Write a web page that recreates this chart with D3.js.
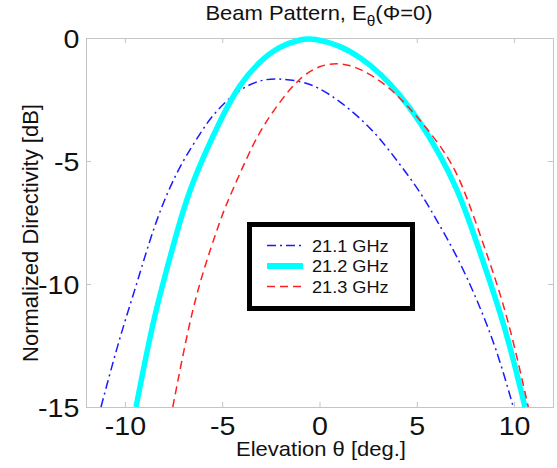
<!DOCTYPE html>
<html>
<head>
<meta charset="utf-8">
<script src="https://cdn.jsdelivr.net/npm/d3@7"></script>
<style>
  body { margin: 0; background: #fff; }
  text { font-family: "Liberation Sans", Arial, sans-serif; fill: #111; }
</style>
</head>
<body>
<div id="chart"></div>
<script>
const width = 557
const height = 468
const margins = { top: 38, bottom: 61, left: 86, right: 4 }
const sx = 1.1 // the reference text is a bit stretched sideways

// data
const ticksX = [-10, -5, 0, 5, 10]
const ticksY = [-15, -10, -5, 0]
const freqLabels = ['21.1 GHz', '21.2 GHz', '21.3 GHz']

const theta211 = [-11.23, -10.29, -9.43, -8.53, -7.72, -7.03, -6.18, -5.49, -4.63, -3.95, -3.09, -2.24, -0.86, 0, 1.05, 2.08, 3.11, 4.14, 5.16, 6.02, 7.05, 8.08, 9.1, 9.96]
const dir211 = [-15, -12.22, -10.1, -7.7, -6.1, -5.01, -3.93, -3.12, -2.44, -2.03, -1.72, -1.63, -1.76, -2.03, -2.57, -3.25, -4.07, -5.15, -6.23, -7.4, -8.83, -10.6, -12.63, -15]

const theta212 = [-9.43, -8.57, -7.89, -7.2, -6.69, -6.0, -4.97, -4.12, -3.09, -2.07, -1.0, -0.3, 1.05, 2.08, 3.11, 4.14, 5.16, 6.19, 7.05, 7.73, 8.59, 9.62, 10.56]
const dir212 = [-15, -11.54, -9.51, -7.52, -6.23, -4.88, -3.12, -1.9, -0.95, -0.34, -0.05, 0, -0.3, -0.78, -1.42, -2.3, -3.39, -4.74, -6.1, -7.5, -9.51, -11.95, -15]

const theta213 = [-7.54, -6.69, -6.0, -5.15, -4.8, -4.12, -3.43, -2.75, -1.89, -1.04, 0, 1.05, 2.08, 3.45, 4.48, 5.51, 6.54, 7.25, 7.9, 8.93, 9.79, 10.73]
const dir213 = [-15, -11.54, -9.51, -7.52, -6.78, -5.56, -4.34, -3.39, -2.44, -1.63, -1.1, -1.0, -1.22, -1.9, -2.71, -3.66, -4.74, -5.8, -7.2, -9.51, -11.7, -15]

const series = [
    { name: freqLabels[0], theta: theta211, dir: dir211 },
    { name: freqLabels[1], theta: theta212, dir: dir212 },
    { name: freqLabels[2], theta: theta213, dir: dir213 }
]

// line styles
const styles = [
    { color: '#1a1aff', width: 1.5, dash: '9,4,2,4', legendWidth: 1.5 },
    { color: '#00ffff', width: 5.5, dash: null, legendWidth: 6 },
    { color: '#ff2020', width: 1.5, dash: '8,5', legendWidth: 1.5 }
]

const w = width - margins.left - margins.right
const h = height - margins.top - margins.bottom

let svg = d3.select('#chart').append('svg').attr('width', width).attr('height', height)

let x = d3.scaleLinear().domain([-12, 12]).range([0, w])
let y = d3.scaleLinear().domain([-15, 0]).range([h, 0])

let plot = svg.append('g').attr('id', 'plot')
    .attr('transform', `translate(${margins.left}, ${margins.top})`)

// axes, ticks pointing inwards
let xAxisGroup = plot.append('g').attr('transform', `translate(0, ${h})`)
    .call(d3.axisBottom(x).tickValues(ticksX).tickSizeInner(-5).tickSizeOuter(0).tickPadding(10))
let xTopGroup = plot.append('g')
    .call(d3.axisTop(x).tickValues(ticksX).tickSizeInner(-5).tickSizeOuter(0).tickFormat(''))
let yAxisGroup = plot.append('g')
    .call(d3.axisLeft(y).tickValues(ticksY).tickSizeInner(-5).tickSizeOuter(0).tickPadding(6))
let yRightGroup = plot.append('g').attr('transform', `translate(${w}, 0)`)
    .call(d3.axisRight(y).tickValues(ticksY).tickSizeInner(-5).tickSizeOuter(0).tickFormat(''))

plot.selectAll('.domain').attr('stroke', '#c4c4c4')
plot.selectAll('.tick line').attr('stroke', '#c4c4c4')
plot.selectAll('.tick text')
    .attr('font-size', 26)
    .attr('font-family', '"Liberation Sans", Arial, sans-serif')
    .attr('fill', '#111')
    .attr('transform', `scale(${sx}, 1)`)
xAxisGroup.selectAll('.tick text').text(d => d < 0 ? '-' + Math.abs(d) : d)
yAxisGroup.selectAll('.tick text').text(d => d < 0 ? '-' + Math.abs(d) : d).attr('dy', '0.38em')

// curves
let line = d3.line()
    .x(d => x(d[0]))
    .y(d => y(d[1]))
    .curve(d3.curveBasis)

plot.selectAll('path.curve').data(series).enter()
    .append('path')
    .attr('class', 'curve')
    .attr('fill', 'none')
    .attr('stroke', (d, i) => styles[i].color)
    .attr('stroke-width', (d, i) => styles[i].width)
    .attr('stroke-dasharray', (d, i) => styles[i].dash)
    .attr('d', d => line(d.theta.map((t, k) => [t, d.dir[k]])))

// legend
let legend = svg.append('g').attr('id', 'legend')
legend.append('rect')
    .attr('x', 249.5).attr('y', 224.5)
    .attr('width', 163).attr('height', 84)
    .attr('fill', '#fff')
    .attr('stroke', '#000')
    .attr('stroke-width', 5)

let items = legend.selectAll('g.item').data(series).enter()
    .append('g')
    .attr('class', 'item')
    .attr('transform', (d, i) => `translate(0, ${245.5 + i * 20.5})`)
items.append('line')
    .attr('x1', 267).attr('x2', 303)
    .attr('stroke', (d, i) => styles[i].color)
    .attr('stroke-width', (d, i) => styles[i].legendWidth)
    .attr('stroke-dasharray', (d, i) => styles[i].dash)
items.append('text')
    .attr('transform', `translate(312, 6) scale(${sx}, 1)`)
    .attr('font-size', 16.5)
    .text(d => d.name)

// title and axis labels
let title = svg.append('text')
    .attr('transform', `translate(319, 20) scale(${sx}, 1)`)
    .attr('text-anchor', 'middle')
    .attr('font-size', 20)
title.append('tspan').text('Beam Pattern, E')
title.append('tspan').attr('font-size', 14).attr('dy', 6).text('θ')
title.append('tspan').attr('dy', -6).text('(Φ=0)')

svg.append('text')
    .attr('transform', `translate(321, 456) scale(${sx}, 1)`)
    .attr('text-anchor', 'middle')
    .attr('font-size', 20)
    .text('Elevation θ [deg.]')

svg.append('text')
    .attr('transform', `translate(38, 233) rotate(-90)`)
    .attr('text-anchor', 'middle')
    .attr('font-size', 22)
    .text('Normalized Directivity [dB]')
</script>
</body>
</html>
